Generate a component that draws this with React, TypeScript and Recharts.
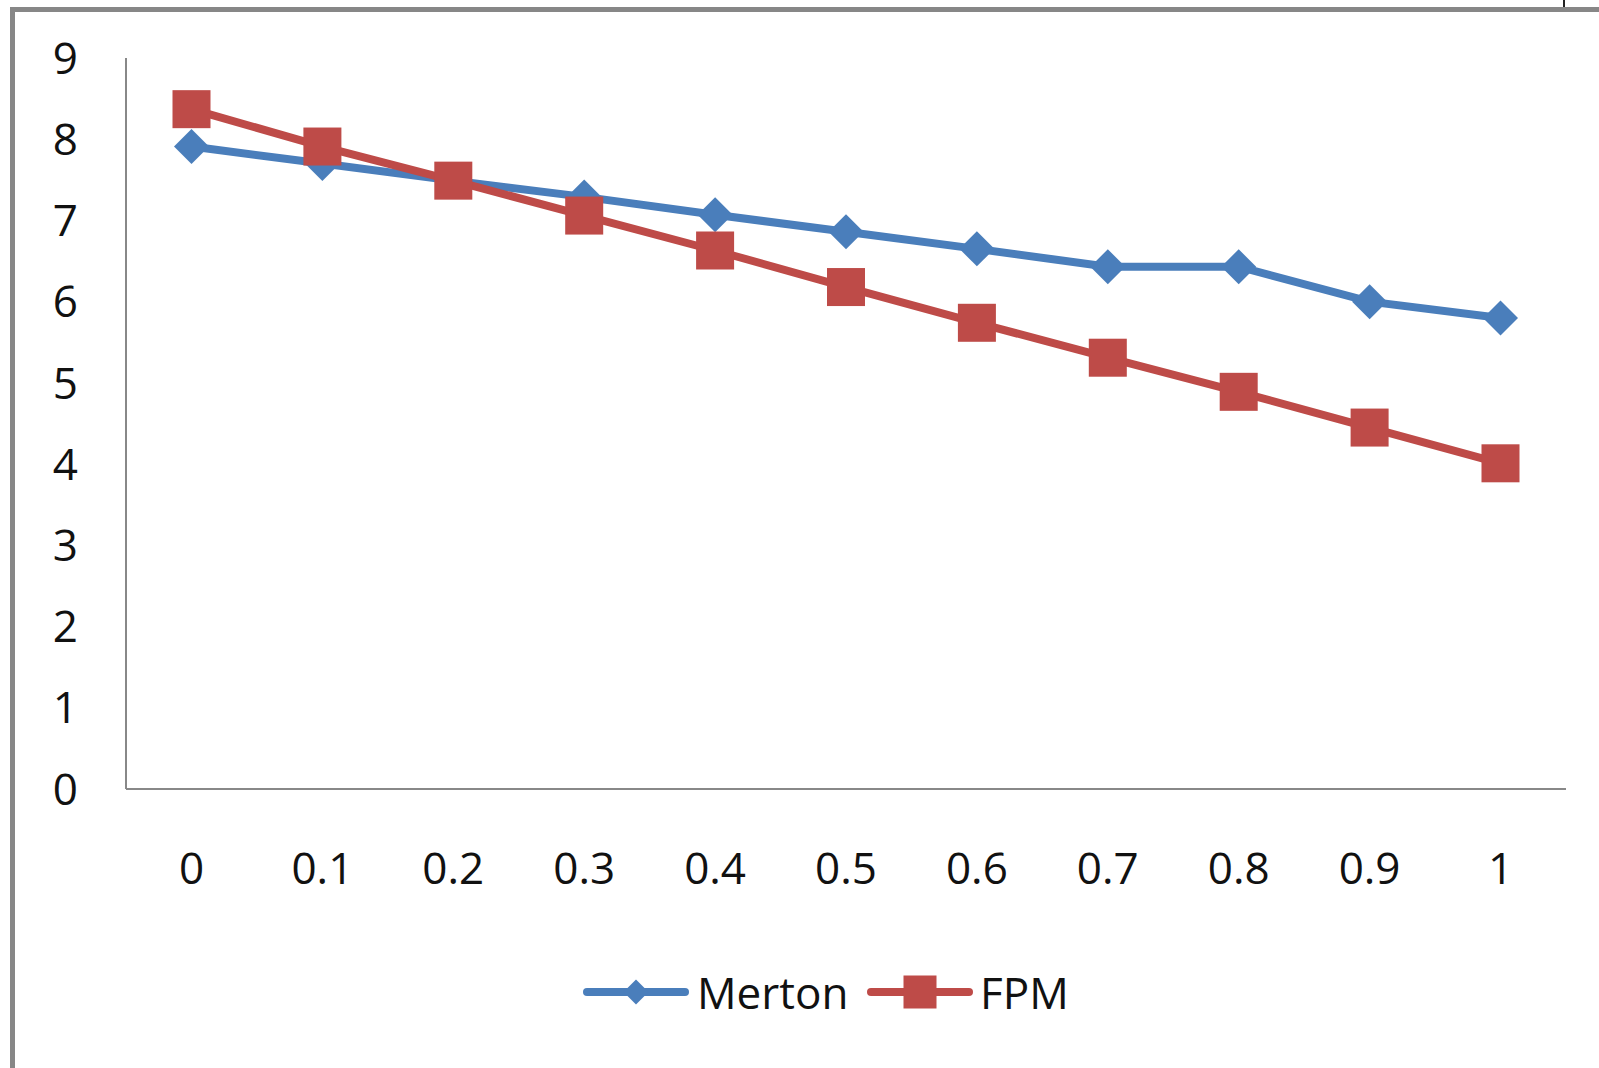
import React from 'react';
import { LineChart, Line, XAxis, YAxis, Legend } from 'recharts';

const categories = ['0', '0.1', '0.2', '0.3', '0.4', '0.5', '0.6', '0.7', '0.8', '0.9', '1'];
const mertonValues = [7.91, 7.7, 7.49, 7.29, 7.07, 6.86, 6.65, 6.43, 6.43, 6.0, 5.8];
const fpmValues = [8.37, 7.91, 7.49, 7.06, 6.63, 6.18, 5.74, 5.31, 4.89, 4.45, 4.01];
const yTicks = [0, 1, 2, 3, 4, 5, 6, 7, 8, 9];

const data = categories.map((c, i) => ({ x: c, Merton: mertonValues[i], FPM: fpmValues[i] }));

const BLUE = '#4A7EBB';
const RED = '#BE4B48';
const FONT = '"Open Sans", sans-serif';

const Diamond = (props: any) => {
  const { cx, cy, index } = props;
  if (cx == null || cy == null) return null;
  const r = 17.5;
  return (
    <path
      key={`d-${index}`}
      d={`M${cx},${cy - r}L${cx + r},${cy}L${cx},${cy + r}L${cx - r},${cy}Z`}
      fill={BLUE}
      stroke="none"
    />
  );
};

const Square = (props: any) => {
  const { cx, cy, index } = props;
  if (cx == null || cy == null) return null;
  const s = 38;
  return <rect key={`s-${index}`} x={cx - s / 2} y={cy - s / 2} width={s} height={s} fill={RED} stroke="none" />;
};

const LegendContent = () => (
  <div style={{ position: 'relative', width: 1599, height: 60, fontFamily: FONT, fontSize: 44, color: '#111' }}>
    <svg width={1599} height={60} style={{ position: 'absolute', left: 0, top: 0 }}>
      <line x1={587} y1={30} x2={685} y2={30} stroke={BLUE} strokeWidth={8} strokeLinecap="round" />
      <path d="M636,17.5L648.5,30L636,42.5L623.5,30Z" fill={BLUE} />
      <line x1={871} y1={30} x2={969} y2={30} stroke={RED} strokeWidth={8} strokeLinecap="round" />
      <rect x={903.5} y={13.5} width={33} height={33} fill={RED} />
      <text x={697} y={30} dominantBaseline="central" fontFamily={FONT} fontSize={44} fill="#111">Merton</text>
      <text x={980} y={30} dominantBaseline="central" fontFamily={FONT} fontSize={44} fill="#111">FPM</text>
    </svg>
  </div>
);

export default function App() {
  return (
    <div style={{ position: 'absolute', left: 0, top: 0, width: 1599, height: 1068, background: '#fff', overflow: 'hidden' }}>
      <div style={{ position: 'absolute', left: 10, top: 7, width: 1599, height: 1068, borderLeft: '5px solid #878787', borderTop: '5px solid #878787' }} />
      <div style={{ position: 'absolute', left: 1563, top: 0, width: 2, height: 7, background: '#222' }} />
      <div style={{ position: 'absolute', left: 0, top: 0 }}>
        <LineChart
          width={1599}
          height={1068}
          data={data}
          margin={{ top: 58, right: 33, bottom: 189, left: 26 }}
        >
          <XAxis
            dataKey="x"
            axisLine={{ stroke: '#888', strokeWidth: 2 }}
            tickLine={false}
            tickSize={0}
            tickMargin={64}
            tick={{ fill: '#111', fontSize: 44, fontFamily: FONT }}
            interval={0}
            height={30}
            padding={{ left: 65.5, right: 65.5 }}
          />
          <YAxis
            domain={[0, 9]}
            ticks={yTicks}
            width={100}
            axisLine={{ stroke: '#888', strokeWidth: 2 }}
            tickLine={false}
            tickSize={0}
            tickMargin={48}
            tick={{ fill: '#111', fontSize: 44, fontFamily: FONT }}
            interval={0}
          />
          <Legend
            verticalAlign="bottom"
            height={60}
            content={<LegendContent />}
            wrapperStyle={{ position: 'absolute', left: 0, top: 962, width: 1599, height: 60 }}
          />
          <Line
            type="linear"
            dataKey="Merton"
            stroke={BLUE}
            strokeWidth={8}
            dot={Diamond}
            activeDot={false}
            isAnimationActive={false}
          />
          <Line
            type="linear"
            dataKey="FPM"
            stroke={RED}
            strokeWidth={8}
            dot={Square}
            activeDot={false}
            isAnimationActive={false}
          />
        </LineChart>
      </div>
    </div>
  );
}
